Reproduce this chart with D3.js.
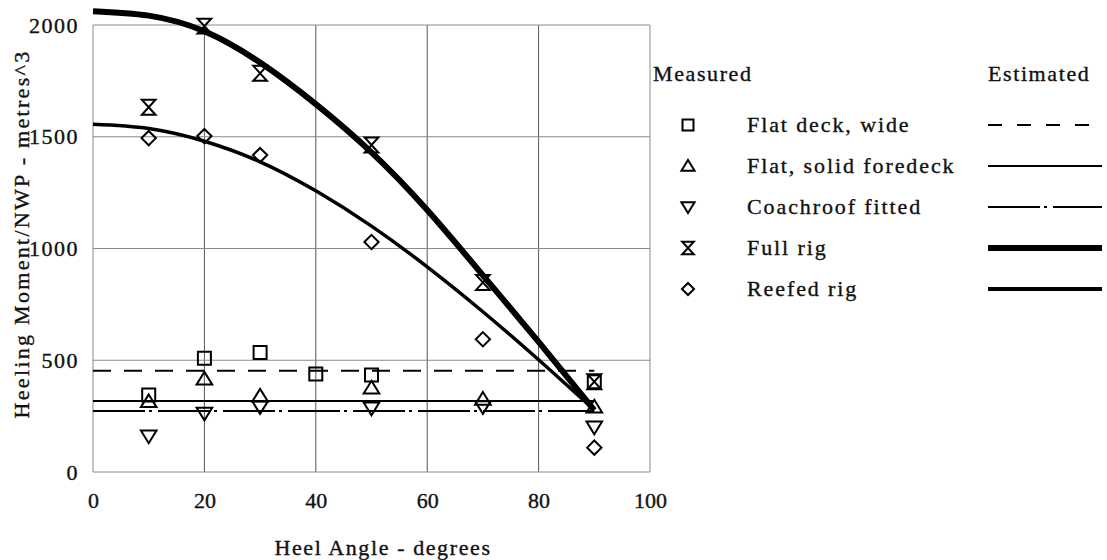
<!DOCTYPE html>
<html>
<head>
<meta charset="utf-8">
<script src="https://cdn.jsdelivr.net/npm/d3@7"></script>
<style>
  html, body { margin: 0; padding: 0; background: #fff; }
  svg { display: block; }
  svg text { stroke: #111; stroke-width: 0.35px; }
</style>
</head>
<body>
<svg id="chart" width="1107" height="560"></svg>
<script>
// Heel angles (degrees) at which moments were measured
const measuredAngles = [10, 20, 30, 40, 50, 70, 90];

// Measured heeling moment / NWP (metres^3); null where no measurement
const flatDeckWide    = [344, 509, 535, 438, 434, null, 404];
const flatSolidFore   = [315, 416, 340, null, 376, 326, 291];
const coachroofFitted = [161, 263, 292, null, 286, 292, 201];
const fullRig         = [1632, 1995, 1784, null, 1463, 848, 404];
const reefedRig       = [1494, 1503, 1418, null, 1029, 594, 109];

// Estimated values
const estimateAngles     = [0, 90];
const estFlatDeckWide    = [453, 453];
const estFlatSolidFore   = [318, 318];
const estCoachroof       = [273, 273];
const fitAngles          = [0, 10, 20, 30, 40, 50, 60, 70, 80, 90];
const estFullRig         = [2062, 2042, 1972, 1832, 1646, 1430, 1172, 880, 582, 277];
const estReefedRig       = [1556, 1537, 1480, 1388, 1258, 1100, 918, 717, 502, 277];

const xTicks = [0, 20, 40, 60, 80, 100];
const yTicks = [0, 500, 1000, 1500, 2000];

const seriesNames = ["Flat deck, wide", "Flat, solid foredeck", "Coachroof fitted", "Full rig", "Reefed rig"];

const FONT = "'Liberation Serif', 'Times New Roman', Times, serif";

const svg = d3.select("#chart").attr("font-family", FONT);
const x = d3.scaleLinear().domain([0, 100]).range([93, 650]);
const y = d3.scaleLinear().domain([0, 2000]).range([472, 25]);

// grid
const grid = svg.append("g");
grid.selectAll("line.v").data(xTicks).join("line")
  .attr("x1", d => x(d)).attr("x2", d => x(d))
  .attr("y1", y(0)).attr("y2", y(2000))
  .attr("stroke", d => (d === 0 || d === 100) ? "#8a8a8a" : "#555")
  .attr("stroke-width", 1);
grid.selectAll("line.h").data(yTicks).join("line")
  .attr("x1", x(0)).attr("x2", x(100))
  .attr("y1", d => y(d)).attr("y2", d => y(d))
  .attr("stroke", "#8a8a8a")
  .attr("stroke-width", 1);

// axes (labels only)
const xAxis = svg.append("g").attr("transform", `translate(0,${y(0)})`)
  .call(d3.axisBottom(x).tickValues(xTicks).tickFormat(d3.format("d")).tickSize(0).tickPadding(20));
const yAxis = svg.append("g").attr("transform", `translate(${x(0)},0)`)
  .call(d3.axisLeft(y).tickValues(yTicks).tickFormat(d3.format("d")).tickSize(0).tickPadding(14));
[xAxis, yAxis].forEach(a => {
  a.attr("font-family", FONT).attr("font-size", 22);
  a.select(".domain").remove();
  a.selectAll("text").attr("fill", "#111");
});
yAxis.selectAll("text").style("letter-spacing", "1.5px");

svg.append("text")
  .attr("x", 383).attr("y", 555)
  .attr("text-anchor", "middle").attr("fill", "#111")
  .attr("font-size", 22).style("letter-spacing", "1.6px")
  .text("Heel Angle - degrees");
svg.append("text")
  .attr("transform", "translate(29,234) rotate(-90)")
  .attr("text-anchor", "middle").attr("fill", "#111")
  .attr("font-size", 22).style("letter-spacing", "2.3px")
  .text("Heeling Moment/NWP - metres^3");

// line styles for estimated curves
const lineStyles = [
  { w: 2,   dash: "18,13" },
  { w: 2,   dash: null },
  { w: 2,   dash: "52,4,3,6" },
  { w: 6,   dash: null },
  { w: 3.5, dash: null }
];

const straight = d3.line().x(d => x(d[0])).y(d => y(d[1]));
const smooth = d3.line().x(d => x(d[0])).y(d => y(d[1])).curve(d3.curveNatural);

const estSeries = [
  { ang: estimateAngles, val: estFlatDeckWide, gen: straight },
  { ang: estimateAngles, val: estFlatSolidFore, gen: straight },
  { ang: estimateAngles, val: estCoachroof, gen: straight },
  { ang: fitAngles, val: estFullRig, gen: smooth },
  { ang: fitAngles, val: estReefedRig, gen: smooth }
];
estSeries.forEach((s, i) => {
  svg.append("path")
    .attr("d", s.gen(s.ang.map((a, j) => [a, s.val[j]])))
    .attr("fill", "none").attr("stroke", "#000")
    .attr("stroke-width", lineStyles[i].w)
    .attr("stroke-dasharray", lineStyles[i].dash);
});

// marker shapes
function markerPath(kind, s) {
  const h = s / 2;
  switch (kind) {
    case 0: return `M${-h},${-h}H${h}V${h}H${-h}Z`;
    case 1: return `M0,${-h * 1.1}L${h * 1.2},${h * 0.85}H${-h * 1.2}Z`;
    case 2: return `M0,${h * 1.1}L${h * 1.2},${-h * 0.85}H${-h * 1.2}Z`;
    case 3: return `M${-h * 1.05},${-h * 1.15}H${h * 1.05}L${-h * 1.05},${h * 1.15}H${h * 1.05}Z`;
    case 4: return `M0,${-h * 1.1}L${h * 1.1},0L0,${h * 1.1}L${-h * 1.1},0Z`;
  }
}

const measured = [flatDeckWide, flatSolidFore, coachroofFitted, fullRig, reefedRig];
measured.forEach((vals, k) => {
  const pts = measuredAngles.map((a, j) => [a, vals[j]]).filter(p => p[1] != null);
  svg.append("g").selectAll("path").data(pts).join("path")
    .attr("transform", d => `translate(${x(d[0])},${y(d[1])})`)
    .attr("d", markerPath(k, 13))
    .attr("fill", "none").attr("stroke", "#000")
    .attr("stroke-width", 2).attr("stroke-linejoin", "miter");
});

// legend
const legend = svg.append("g");
legend.append("text").attr("x", 653).attr("y", 81).attr("fill", "#111")
  .attr("font-size", 22).style("letter-spacing", "1.6px").text("Measured");
legend.append("text").attr("x", 988).attr("y", 81).attr("fill", "#111")
  .attr("font-size", 22).style("letter-spacing", "1.6px").text("Estimated");
const legendLineDash = ["14,15", null, "52,4,3,6", null, null];
seriesNames.forEach((name, i) => {
  const cy = 125 + i * 41;
  legend.append("path")
    .attr("transform", `translate(688,${cy})`)
    .attr("d", markerPath(i, 11))
    .attr("fill", "none").attr("stroke", "#000").attr("stroke-width", 2);
  legend.append("text").attr("x", 747).attr("y", cy + 7).attr("fill", "#111")
    .attr("font-size", 22).style("letter-spacing", "1.9px").text(name);
  legend.append("line")
    .attr("x1", 988).attr("x2", 1102).attr("y1", cy).attr("y2", cy)
    .attr("stroke", "#000")
    .attr("stroke-width", i === 3 ? 6 : (i === 4 ? 4 : 2))
    .attr("stroke-dasharray", legendLineDash[i]);
});
</script>
</body>
</html>
